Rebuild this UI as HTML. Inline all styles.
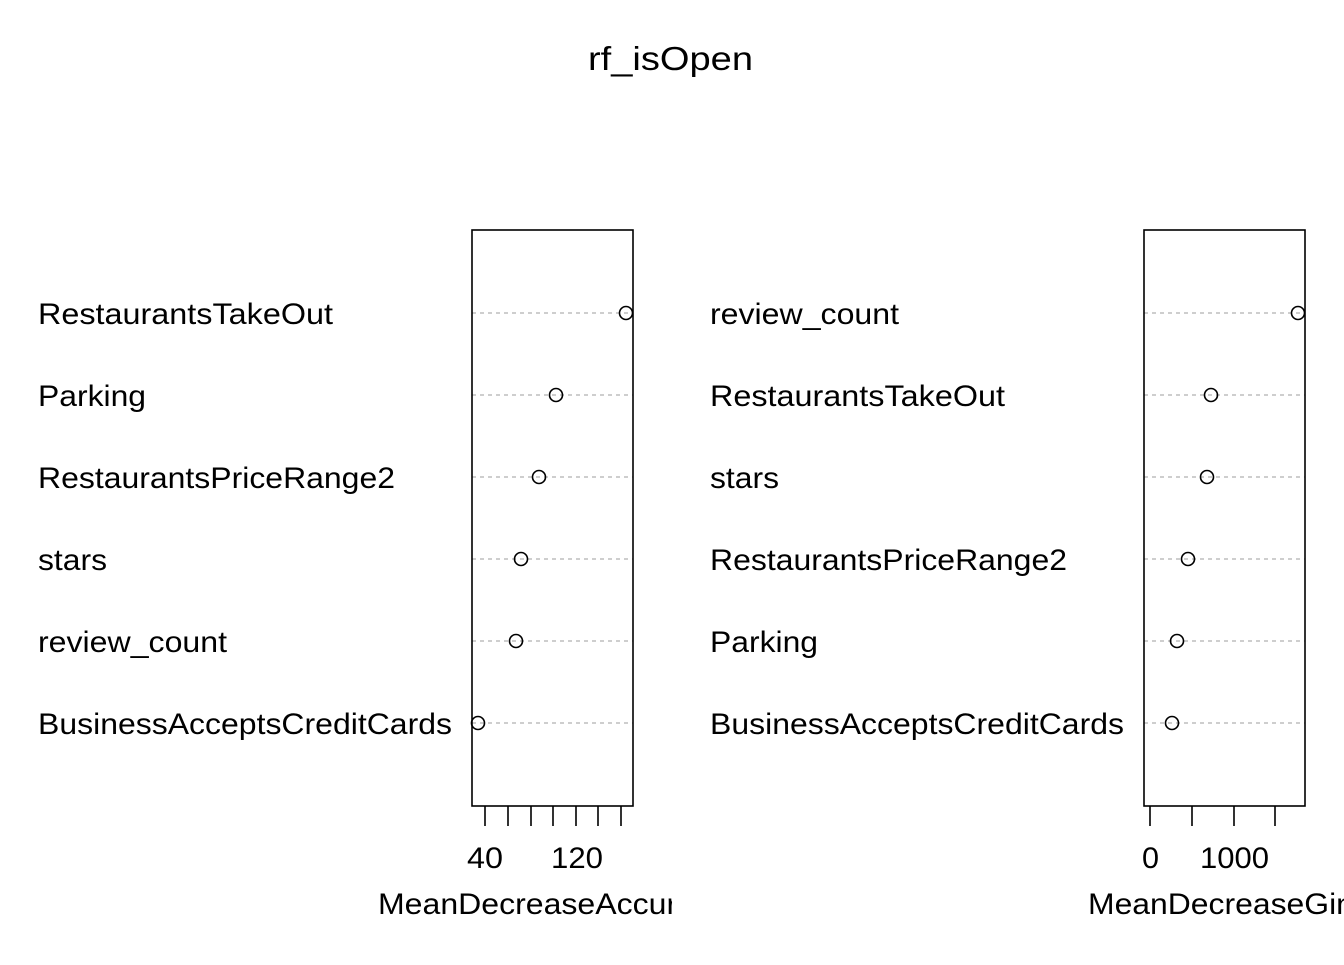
<!DOCTYPE html>
<html><head><style>html,body{margin:0;padding:0;background:#fff}</style></head>
<body>
<svg width="1344" height="960" xmlns="http://www.w3.org/2000/svg" font-family="Liberation Sans, Arial, sans-serif">
<defs><clipPath id="cl"><rect x="0" y="0" width="672" height="960"/></clipPath></defs>
<rect width="1344" height="960" fill="#fff"/>
<text x="588" y="70" font-size="33" textLength="165" lengthAdjust="spacingAndGlyphs">rf_isOpen</text>
<g font-size="30" lengthAdjust="spacingAndGlyphs">
<text x="38" y="324" textLength="295" lengthAdjust="spacingAndGlyphs">RestaurantsTakeOut</text>
<text x="38" y="406" textLength="108" lengthAdjust="spacingAndGlyphs">Parking</text>
<text x="38" y="488" textLength="357" lengthAdjust="spacingAndGlyphs">RestaurantsPriceRange2</text>
<text x="38" y="570" textLength="69" lengthAdjust="spacingAndGlyphs">stars</text>
<text x="38" y="652" textLength="189" lengthAdjust="spacingAndGlyphs">review_count</text>
<text x="38" y="734" textLength="414" lengthAdjust="spacingAndGlyphs">BusinessAcceptsCreditCards</text>
<text x="710" y="324" textLength="189" lengthAdjust="spacingAndGlyphs">review_count</text>
<text x="710" y="406" textLength="295" lengthAdjust="spacingAndGlyphs">RestaurantsTakeOut</text>
<text x="710" y="488" textLength="69" lengthAdjust="spacingAndGlyphs">stars</text>
<text x="710" y="570" textLength="357" lengthAdjust="spacingAndGlyphs">RestaurantsPriceRange2</text>
<text x="710" y="652" textLength="108" lengthAdjust="spacingAndGlyphs">Parking</text>
<text x="710" y="734" textLength="414" lengthAdjust="spacingAndGlyphs">BusinessAcceptsCreditCards</text>
</g>
<g stroke="#b0b0b0" stroke-width="1.3" stroke-dasharray="4,4">
<line x1="472" x2="633" y1="313" y2="313"/><line x1="472" x2="633" y1="395" y2="395"/>
<line x1="472" x2="633" y1="477" y2="477"/><line x1="472" x2="633" y1="559" y2="559"/>
<line x1="472" x2="633" y1="641" y2="641"/><line x1="472" x2="633" y1="723" y2="723"/>
<line x1="1144" x2="1305" y1="313" y2="313"/><line x1="1144" x2="1305" y1="395" y2="395"/>
<line x1="1144" x2="1305" y1="477" y2="477"/><line x1="1144" x2="1305" y1="559" y2="559"/>
<line x1="1144" x2="1305" y1="641" y2="641"/><line x1="1144" x2="1305" y1="723" y2="723"/>
</g>
<g fill="none" stroke="#000" stroke-width="1.6">
<rect x="472" y="230" width="161" height="576"/>
<rect x="1144" y="230" width="161" height="576"/>
<circle cx="626" cy="313" r="6.5"/><circle cx="556" cy="395" r="6.5"/><circle cx="539" cy="477" r="6.5"/>
<circle cx="521" cy="559" r="6.5"/><circle cx="516" cy="641" r="6.5"/><circle cx="478" cy="723" r="6.5"/>
<circle cx="1298" cy="313" r="6.5"/><circle cx="1211" cy="395" r="6.5"/><circle cx="1207" cy="477" r="6.5"/>
<circle cx="1188" cy="559" r="6.5"/><circle cx="1177" cy="641" r="6.5"/><circle cx="1172" cy="723" r="6.5"/>
<path d="M485 806v20M508 806v20M531 806v20M553 806v20M576 806v20M598 806v20M621 806v20"/>
<path d="M1150 806v20M1192 806v20M1234 806v20M1275 806v20"/>
</g>
<g font-size="30">
<text x="467" y="868" textLength="36" lengthAdjust="spacingAndGlyphs">40</text>
<text x="551" y="868" textLength="52" lengthAdjust="spacingAndGlyphs">120</text>
<text x="1142" y="868" textLength="17" lengthAdjust="spacingAndGlyphs">0</text>
<text x="1200" y="868" textLength="69" lengthAdjust="spacingAndGlyphs">1000</text>
<text x="378" y="914" textLength="349" lengthAdjust="spacingAndGlyphs" clip-path="url(#cl)">MeanDecreaseAccuracy</text>
<text x="1088" y="914" textLength="273" lengthAdjust="spacingAndGlyphs">MeanDecreaseGini</text>
</g>
</svg>
</body></html>
